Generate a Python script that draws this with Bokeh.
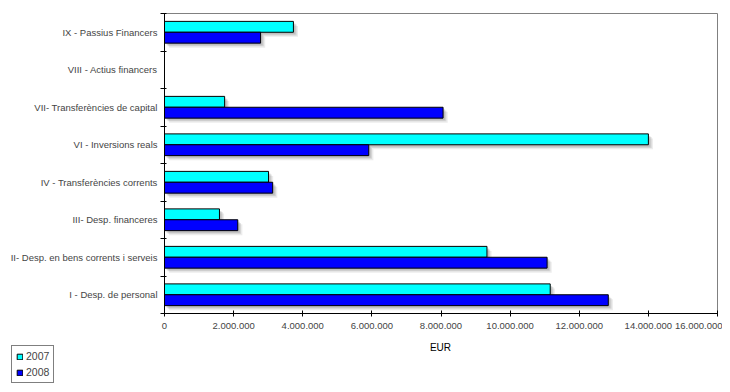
from bokeh.plotting import figure
from bokeh.layouts import column
from bokeh.models import (FixedTicker, CustomJSTickFormatter, Range1d, Legend,
                          LegendItem, ColumnDataSource, Label)
from bokeh.embed import file_html
from bokeh.resources import INLINE

# categories from bottom to top
categories = ["I - Desp. de personal",
              "II- Desp. en bens corrents i serveis",
              "III- Desp. financeres",
              "IV - Transferències corrents",
              "VI - Inversions reals",
              "VII- Transferències de capital",
              "VIII - Actius financers",
              "IX - Passius Financers"]
values_2007 = [11160000, 9330000, 1590000, 3010000, 14000000, 1740000, 0, 3730000]
values_2008 = [12840000, 11070000, 2120000, 3130000, 5910000, 8060000, 0, 2780000]
series_names = ["2007", "2008"]
x_ticks = [0, 2000000, 4000000, 6000000, 8000000, 10000000, 12000000, 14000000, 16000000]
x_title = "EUR"

FONT = "Liberation Sans"
C07 = "#00FFFF"
C08 = "#0000FF"

n = len(categories)
bar_h = 0.29
y07 = [i + 0.5 + bar_h / 2 for i in range(n)]
y08 = [i + 0.5 - bar_h / 2 for i in range(n)]

W = 722
p = figure(width=W, height=340, output_backend="svg", toolbar_location=None,
           x_range=Range1d(0, 16000000), y_range=Range1d(0, n),
           min_border_left=164, min_border_right=5, min_border_top=13,
           min_border_bottom=27)
p.xgrid.visible = False
p.ygrid.visible = False
p.outline_line_color = "#808080"
p.outline_line_width = 1
p.background_fill_color = "white"
p.border_fill_color = "white"

# drop shadows (only for non-zero bars)
xoff = 4 / 553 * 16000000
yoff = 4 / 37.5
for vals, ys in ((values_2007, y07), (values_2008, y08)):
    sy = [y for y, v in zip(ys, vals) if v > 0]
    sv = [v for v in vals if v > 0]
    for k, a in [(1.15, 0.15), (0.8, 0.22), (0.5, 0.25)]:
        p.hbar(y=[y - yoff * k for y in sy], left=xoff * k,
               right=[v + xoff * k for v in sv],
               height=bar_h, fill_color="#808080", fill_alpha=a, line_color=None)

src07 = ColumnDataSource(dict(y=[y for y, v in zip(y07, values_2007) if v > 0],
                              right=[v for v in values_2007 if v > 0]))
src08 = ColumnDataSource(dict(y=[y for y, v in zip(y08, values_2008) if v > 0],
                              right=[v for v in values_2008 if v > 0]))
p.hbar(y="y", left=0, right="right", height=bar_h, source=src07,
       fill_color=C07, line_color="black", line_width=1)
p.hbar(y="y", left=0, right="right", height=bar_h, source=src08,
       fill_color=C08, line_color="black", line_width=1)

# x axis
xa = p.xaxis[0]
xa.ticker = FixedTicker(ticks=x_ticks, minor_ticks=[])
xa.formatter = CustomJSTickFormatter(code="""
return Math.round(tick).toString().replace(/\\B(?=(\\d{3})+(?!\\d))/g, ".");
""")
xa.major_label_text_font = FONT
xa.major_label_text_font_size = "9.5px"
xa.major_label_standoff = 6
xa.major_tick_in = 3
xa.major_tick_out = 3
xa.axis_line_color = "black"
xa.major_tick_line_color = "black"

# y axis
ya = p.yaxis[0]
ya.ticker = FixedTicker(ticks=[i + 0.5 for i in range(n)],
                        minor_ticks=[float(i) for i in range(n + 1)])
ya.formatter = CustomJSTickFormatter(args=dict(labels=categories), code="""
return labels[Math.floor(tick)];
""")
ya.major_tick_line_color = None
ya.major_tick_in = 0
ya.major_tick_out = 0
ya.minor_tick_in = 2
ya.minor_tick_out = 4
ya.minor_tick_line_color = "black"
ya.major_label_standoff = 3
ya.major_label_text_font = FONT
ya.major_label_text_font_size = "9.5px"
ya.axis_line_color = "black"

# lower strip: legend and x-axis title
p2 = figure(width=W, height=44, output_backend="svg", toolbar_location=None,
            x_range=Range1d(0, 16000000), y_range=Range1d(0, n),
            min_border_left=0, min_border_right=0, min_border_top=0,
            min_border_bottom=0)
p2.axis.visible = False
p2.xgrid.visible = False
p2.ygrid.visible = False
p2.outline_line_color = None
p2.border_fill_color = "white"
k07 = p2.hbar(y=y07, left=0, right=values_2007, height=bar_h,
              fill_color=C07, line_color="black", line_width=1, visible=False)
k08 = p2.hbar(y=y08, left=0, right=values_2008, height=bar_h,
              fill_color=C08, line_color="black", line_width=1, visible=False)

for fig in (p, p2):
    if "frame_align" in fig.properties():
        fig.frame_align = False

legend = Legend(items=[LegendItem(label=series_names[0], renderers=[k07]),
                       LegendItem(label=series_names[1], renderers=[k08])],
                location=(11, 1), orientation="vertical")
legend.border_line_color = "black"
legend.border_line_width = 1
legend.background_fill_color = "white"
legend.label_text_font = FONT
legend.label_text_font_size = "10.5px"
legend.glyph_width = 7
legend.glyph_height = 7
legend.label_standoff = 3
legend.spacing = 4
legend.padding = 4
legend.margin = 0
legend.label_height = 12
p2.add_layout(legend, "center")

p2.add_layout(Label(x=440, y=37, x_units="screen", y_units="screen", text=x_title,
                    text_align="center", text_baseline="middle",
                    text_font=FONT, text_font_size="10px", text_color="black"))

layout = column(p, p2, spacing=0)
open("out.html", "w").write(file_html(layout, INLINE))
